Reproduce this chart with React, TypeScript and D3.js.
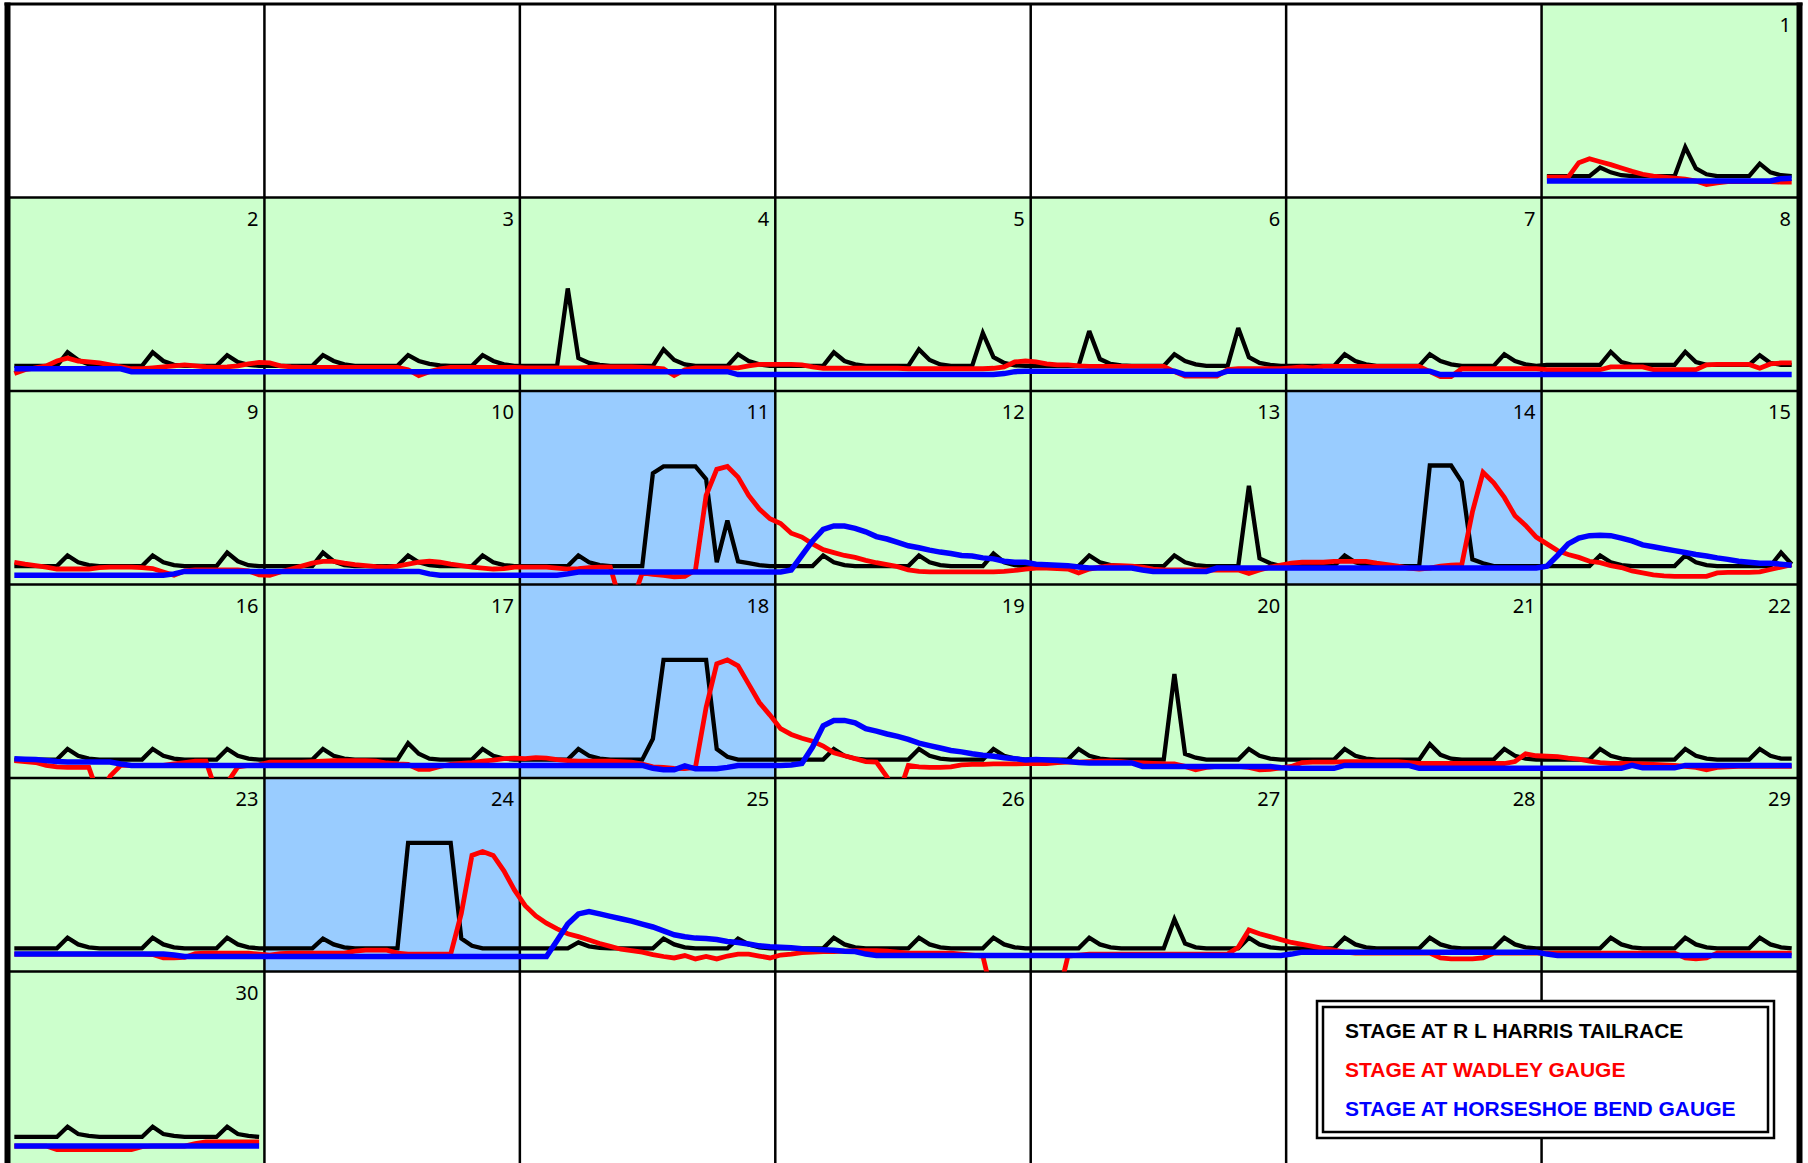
import React from 'react';
import * as d3 from 'd3';

// calendar: day 1 falls in the last column of the first week row
const FIRST_COL = 6;
const dayNumbers = [1, 2, 3, 4, 5, 6, 7, 8, 9, 10, 11, 12, 13, 14, 15, 16, 17, 18, 19, 20, 21, 22, 23, 24, 25, 26, 27, 28, 29, 30];
const highlightDays = [11, 14, 18, 24];
const seriesNames = ['STAGE AT R L HARRIS TAILRACE', 'STAGE AT WADLEY GAUGE', 'STAGE AT HORSESHOE BEND GAUGE'];

// hourly stage (ft), one row of 24 per day
const harris: number[][] = [
  [2.2,2.2,2.2,2.2,2.2,3.1, 2.6,2.3,2.2,2.2,2.2,2.2, 2.2,5.2,3.0,2.4,2.2,2.2, 2.2,2.2,3.5,2.6,2.3,2.2],
  [2.6,2.6,2.6,2.6,2.6,4.0, 3.2,2.75,2.6,2.6,2.6,2.6, 2.6,4.0,3.1,2.7,2.6,2.6, 2.6,2.6,3.7,3.0,2.7,2.6],
  [2.6,2.6,2.6,2.6,2.6,3.7, 3.1,2.75,2.6,2.6,2.6,2.6, 2.6,3.7,3.1,2.8,2.65,2.6, 2.6,2.6,3.7,3.1,2.75,2.6],
  [2.6,2.6,2.6,2.6,10.6,3.4, 2.9,2.7,2.6,2.6,2.6,2.6, 2.6,4.3,3.2,2.75,2.6,2.6, 2.6,2.6,3.8,3.1,2.75,2.6],
  [2.6,2.6,2.6,2.6,2.6,4.0, 3.1,2.75,2.6,2.6,2.6,2.6, 2.6,4.3,3.2,2.75,2.6,2.6, 2.6,6.0,3.5,2.9,2.65,2.6],
  [2.6,2.6,2.6,2.6,2.6,6.2, 3.3,2.8,2.65,2.6,2.6,2.6, 2.6,3.8,3.1,2.75,2.6,2.6, 2.6,6.5,3.5,2.9,2.7,2.6],
  [2.6,2.6,2.6,2.6,2.6,3.8, 3.1,2.75,2.6,2.6,2.6,2.6, 2.6,3.8,3.1,2.75,2.6,2.6, 2.6,2.6,3.8,3.1,2.75,2.6],
  [2.7,2.7,2.7,2.7,2.7,2.7, 4.05,3.0,2.7,2.7,2.7,2.7, 2.7,4.05,3.0,2.7,2.7,2.7, 2.7,2.7,3.7,2.9,2.7,2.7],
  [1.9,1.9,1.9,1.9,1.9,3.0, 2.3,2.0,1.9,1.9,1.9,1.9, 1.9,3.0,2.3,2.0,1.9,1.9, 1.9,1.9,3.3,2.4,2.0,1.9],
  [1.9,1.9,1.9,1.9,1.9,3.3, 2.4,2.0,1.9,1.9,1.9,1.9, 1.9,3.0,2.3,2.0,1.9,1.9, 1.9,1.9,3.0,2.3,2.0,1.9],
  [1.9,1.9,1.9,1.9,1.9,3.0, 2.3,2.0,1.9,1.9,1.9,1.9, 11.5,12.2,12.2,12.2,12.2,10.9, 2.3,6.6,2.4,2.2,2.0,1.9],
  [1.9,1.9,1.9,1.9,3.0,2.3, 2.0,1.9,1.9,1.9,1.9,1.9, 1.9,3.0,2.3,2.0,1.9,1.9, 1.9,1.9,3.2,2.3,2.0,1.9],
  [1.9,1.9,1.9,1.9,1.9,3.0, 2.3,2.0,1.9,1.9,1.9,1.9, 1.9,3.0,2.3,2.0,1.9,1.9, 1.9,1.9,10.2,2.7,2.2,1.9],
  [1.9,1.9,1.9,1.9,1.9,3.0, 2.3,2.0,1.9,1.9,1.9,1.9, 1.9,12.3,12.3,12.3,10.6,2.6, 2.2,1.9,1.9,1.9,1.9,1.9],
  [1.9,1.9,1.9,1.9,1.9,3.0, 2.3,2.0,1.9,1.9,1.9,1.9, 1.9,3.0,2.3,2.0,1.9,1.9, 1.9,1.9,1.9,1.9,3.3,2.1],
  [1.9,1.9,1.9,1.9,1.9,3.0, 2.3,2.0,1.9,1.9,1.9,1.9, 1.9,3.0,2.3,2.0,1.9,1.9, 1.9,1.9,3.0,2.3,2.0,1.9],
  [1.9,1.9,1.9,1.9,1.9,3.0, 2.3,2.0,1.9,1.9,1.9,1.9, 1.9,3.6,2.5,2.0,1.9,1.9, 1.9,1.9,3.0,2.3,2.0,1.9],
  [1.9,1.9,1.9,1.9,1.9,3.0, 2.3,2.0,1.9,1.9,1.9,1.9, 4.05,12.2,12.2,12.2,12.2,12.2, 3.0,2.2,1.9,1.9,1.9,1.9],
  [1.9,1.9,1.9,1.9,1.9,3.0, 2.3,2.0,1.9,1.9,1.9,1.9, 1.9,3.0,2.3,2.0,1.9,1.9, 1.9,1.9,3.0,2.3,2.0,1.9],
  [1.9,1.9,1.9,1.9,3.0,2.3, 2.0,1.9,1.9,1.9,1.9,1.9, 1.9,10.75,2.5,2.1,1.9,1.9, 1.9,1.9,3.0,2.3,2.0,1.9],
  [1.9,1.9,1.9,1.9,1.9,3.0, 2.3,2.0,1.9,1.9,1.9,1.9, 1.9,3.5,2.4,2.0,1.9,1.9, 1.9,1.9,3.0,2.3,2.0,1.9],
  [1.9,1.9,1.9,1.9,1.9,3.0, 2.3,2.0,1.9,1.9,1.9,1.9, 1.9,3.0,2.3,2.0,1.9,1.9, 1.9,1.9,3.0,2.3,2.0,2.0],
  [2.4,2.4,2.4,2.4,2.4,3.5, 2.8,2.5,2.4,2.4,2.4,2.4, 2.4,3.5,2.8,2.5,2.4,2.4, 2.4,2.4,3.5,2.8,2.5,2.4],
  [2.4,2.4,2.4,2.4,2.4,3.4, 2.8,2.5,2.4,2.4,2.4,2.4, 2.4,13.3,13.3,13.3,13.3,13.3, 3.4,2.65,2.4,2.4,2.4,2.4],
  [2.4,2.4,2.4,2.4,2.4,3.0, 2.6,2.45,2.4,2.4,2.4,2.4, 2.4,3.4,2.8,2.5,2.4,2.4, 2.4,2.4,3.4,2.8,2.5,2.4],
  [2.4,2.4,2.4,2.4,2.4,3.5, 2.8,2.5,2.4,2.4,2.4,2.4, 2.4,3.5,2.8,2.5,2.4,2.4, 2.4,2.4,3.5,2.8,2.5,2.4],
  [2.4,2.4,2.4,2.4,2.4,3.5, 2.8,2.5,2.4,2.4,2.4,2.4, 2.4,5.4,2.9,2.5,2.4,2.4, 2.4,2.4,3.5,2.8,2.5,2.4],
  [2.4,2.4,2.4,2.4,2.4,3.5, 2.8,2.5,2.4,2.4,2.4,2.4, 2.4,3.5,2.8,2.5,2.4,2.4, 2.4,2.4,3.5,2.8,2.5,2.4],
  [2.4,2.4,2.4,2.4,2.4,2.4, 3.5,2.8,2.5,2.4,2.4,2.4, 2.4,3.5,2.8,2.5,2.4,2.4, 2.4,2.4,3.5,2.8,2.5,2.4],
  [2.9,2.9,2.9,2.9,2.9,3.95, 3.2,3.0,2.9,2.9,2.9,2.9, 2.9,3.95,3.2,3.0,2.9,2.9, 2.9,2.9,3.95,3.2,3.0,2.9],
];

const wadley: number[][] = [
  [2.1,2.1,2.1,3.6,4.0,3.7, 3.4,3.05,2.7,2.4,2.2,2.1, 2.0,1.9,1.7,1.35,1.5,1.65, 1.65,1.65,1.65,1.65,1.6,1.6],
  [1.8,2.2,2.4,2.6,3.1,3.4, 3.1,3.0,2.9,2.7,2.5,2.3, 2.3,2.4,2.5,2.6,2.7,2.6, 2.5,2.45,2.5,2.6,2.8,2.95],
  [2.9,2.6,2.5,2.45,2.45,2.45, 2.45,2.45,2.45,2.45,2.45,2.45, 2.45,2.2,1.6,2.0,2.3,2.45, 2.45,2.45,2.45,2.45,2.45,2.45],
  [2.4,2.4,2.4,2.4,2.4,2.4, 2.45,2.5,2.5,2.5,2.5,2.45, 2.4,2.3,1.6,2.2,2.4,2.4, 2.4,2.4,2.4,2.6,2.75,2.75],
  [2.75,2.75,2.7,2.5,2.35,2.35, 2.35,2.35,2.35,2.35,2.35,2.35, 2.3,2.3,2.3,2.3,2.3,2.3, 2.3,2.3,2.35,2.5,3.0,3.1],
  [3.0,2.8,2.7,2.7,2.6,2.55, 2.55,2.55,2.55,2.55,2.55,2.55, 2.55,2.0,1.55,1.55,1.55,1.55, 2.2,2.3,2.3,2.3,2.3,2.3],
  [2.4,2.5,2.4,2.55,2.55,2.55, 2.55,2.55,2.55,2.55,2.55,2.55, 2.55,2.0,1.5,1.5,2.3,2.3, 2.3,2.3,2.3,2.3,2.3,2.3],
  [2.2,2.2,2.2,2.2,2.2,2.2, 2.5,2.5,2.5,2.5,2.2,2.2, 2.2,2.2,2.2,2.7,2.75,2.75, 2.75,2.75,2.35,2.8,2.9,2.9],
  [2.3,2.1,1.95,1.8,1.6,1.6, 1.6,1.6,1.75,1.8,1.8,1.8, 1.75,1.65,1.3,0.95,1.4,1.5, 1.5,1.5,1.5,1.5,1.4,1.0],
  [0.95,1.3,1.6,1.9,2.2,2.4, 2.4,2.2,2.06,1.95,1.85,1.8, 1.9,2.1,2.3,2.4,2.3,2.1, 1.95,1.8,1.7,1.6,1.65,1.8],
  [1.8,1.8,1.8,1.7,1.6,1.65, 1.75,1.8,1.8,-2,-2,1.2, 1.05,0.95,0.8,0.85,1.5,9.2, 11.9,12.2,11.1,9.2,7.8,6.8],
  [6.3,5.3,4.9,4.2,3.6,3.3, 3.0,2.8,2.5,2.25,2.05,1.85, 1.5,1.35,1.3,1.3,1.3,1.3, 1.3,1.3,1.3,1.35,1.45,1.6],
  [1.7,1.7,1.65,1.6,1.2,1.6, 1.8,1.95,1.95,1.9,1.8,1.6, 1.5,1.5,1.5,1.5,1.5,1.5, 1.5,1.5,1.15,1.5,1.8,2.0],
  [2.2,2.3,2.3,2.3,2.4,2.4, 2.4,2.4,2.2,2.05,1.9,1.7, 1.6,1.7,1.9,2.0,2.05,7.5, 11.6,10.5,9.0,7.1,6.1,4.9],
  [4.2,3.5,3.1,2.8,2.4,2.25, 1.95,1.75,1.4,1.2,1.0,0.9, 0.85,0.85,0.85,0.85,1.2,1.25, 1.25,1.25,1.3,1.55,1.8,2.05],
  [1.8,1.7,1.6,1.3,1.15,1.1, 1.1,1.1,-2,0.2,1.3,1.3, 1.3,1.3,1.3,1.45,1.6,1.75, 1.75,-1.5,-0.5,1.15,1.3,1.35],
  [1.65,1.65,1.65,1.65,1.7,1.75, 1.8,1.8,1.8,1.8,1.75,1.55, 1.45,1.4,0.9,0.9,1.2,1.4, 1.5,1.6,1.75,1.85,2.0,2.05],
  [2.0,2.1,2.05,1.9,1.8,1.75, 1.75,1.75,1.75,1.7,1.65,1.45, 1.15,1.1,1.0,0.96,1.1,7.3, 11.8,12.2,11.6,9.7,7.8,6.5],
  [5.1,4.5,4.1,3.8,3.3,2.6, 2.3,2.0,1.7,1.65,0.1,-2, 1.3,1.15,1.1,1.1,1.15,1.35, 1.4,1.4,1.45,1.45,1.45,1.5],
  [1.5,1.5,1.6,1.65,1.65,1.7, 1.75,1.75,1.7,1.6,1.55,1.5, 1.45,1.45,1.2,0.85,1.1,1.2, 1.2,1.2,1.1,0.85,0.9,1.05],
  [1.2,1.6,1.65,1.65,1.65,1.7, 1.7,1.7,1.7,1.7,1.7,1.6, 1.5,1.5,1.5,1.5,1.5,1.5, 1.5,1.5,1.5,1.7,2.5,2.3],
  [2.25,2.2,2.05,1.95,1.75,1.6, 1.5,1.5,1.5,1.45,1.4,1.35, 1.3,1.2,1.1,0.85,1.1,1.15, 1.2,1.2,1.2,1.2,1.2,1.2],
  [1.8,1.8,1.8,1.8,1.8,1.8, 1.8,1.8,1.8,1.8,1.8,1.8, 1.8,1.75,1.4,1.4,1.45,1.85, 1.9,1.9,1.9,1.9,1.9,1.8],
  [1.7,1.85,1.9,1.9,1.9,1.9, 1.9,1.9,2.1,2.2,2.2,2.2, 1.9,1.8,1.8,1.8,1.8,1.8, 6.0,12.0,12.4,12.0,10.4,8.4],
  [6.8,5.75,5.0,4.4,3.9,3.6, 3.25,2.9,2.6,2.3,2.15,2.0, 1.75,1.55,1.4,1.65,1.3,1.55, 1.3,1.6,1.8,1.8,1.6,1.4],
  [1.7,1.8,1.95,2.0,2.05,2.06, 2.1,2.15,2.15,2.15,2.1,2.0, 1.9,1.9,1.9,1.9,1.9,1.8, 1.7,1.6,-3,-3,-3,-3],
  [-3,-3,-3,1.6,1.7,1.8, 1.8,1.8,1.8,1.8,1.8,1.8, 1.8,1.8,1.8,1.8,1.8,1.8, 1.8,2.5,4.3,3.9,3.6,3.3],
  [3.0,2.8,2.6,2.4,2.2,2.0, 1.9,1.9,1.9,1.9,1.9,1.9, 1.9,1.9,1.4,1.3,1.3,1.3, 1.4,1.9,1.9,1.9,1.9,1.9],
  [1.9,1.9,1.9,1.9,1.9,1.9, 1.9,1.9,1.9,1.9,1.9,1.9, 1.9,1.4,1.3,1.4,1.9,1.9, 1.9,1.9,1.9,1.9,1.9,1.9],
  [1.96,1.96,1.96,1.96,1.6,1.6, 1.6,1.6,1.6,1.6,1.6,1.6, 1.9,1.96,1.96,1.96,1.96,2.2, 2.4,2.4,2.4,2.4,2.4,2.4],
];

const horseshoe: number[][] = [
  [1.7,1.7,1.7,1.7,1.7,1.7, 1.7,1.7,1.7,1.7,1.7,1.7, 1.7,1.7,1.7,1.7,1.7,1.7, 1.7,1.7,1.7,1.7,1.95,2.0],
  [2.3,2.3,2.3,2.3,2.3,2.3, 2.3,2.3,2.3,2.3,2.3,2.0, 2.0,2.0,2.0,2.0,2.0,2.0, 2.0,2.0,2.0,2.0,2.0,2.0],
  [2.0,2.0,2.0,2.0,2.0,2.0, 2.0,2.0,2.0,2.0,2.0,2.0, 2.0,2.0,2.0,2.0,2.0,2.0, 2.0,2.0,2.0,2.0,2.0,2.0],
  [2.0,2.0,2.0,2.0,2.0,2.0, 2.0,2.0,2.0,2.0,2.0,2.0, 2.0,2.0,2.0,2.0,2.0,2.0, 2.0,2.0,1.7,1.7,1.7,1.7],
  [1.7,1.7,1.7,1.7,1.7,1.7, 1.7,1.7,1.7,1.7,1.7,1.7, 1.7,1.7,1.7,1.7,1.7,1.7, 1.7,1.7,1.7,1.8,2.0,2.05],
  [2.05,2.05,2.05,2.05,2.05,2.05, 2.05,2.05,2.05,2.05,2.05,2.05, 2.05,2.05,1.7,1.7,1.7,1.7, 2.05,2.05,2.05,2.05,2.05,2.05],
  [2.05,2.05,2.05,2.05,2.05,2.05, 2.05,2.05,2.05,2.05,2.05,2.05, 2.05,2.05,1.7,1.7,1.7,1.7, 1.7,1.7,1.7,1.7,1.7,1.7],
  [1.7,1.7,1.7,1.7,1.7,1.7, 1.7,1.7,1.7,1.7,1.7,1.7, 1.7,1.7,1.7,1.7,1.7,1.7, 1.7,1.7,1.7,1.7,1.7,1.7],
  [0.95,0.95,0.95,0.95,0.95,0.95, 0.95,0.95,0.95,0.95,0.95,0.95, 0.95,0.95,0.95,1.1,1.35,1.35, 1.35,1.35,1.35,1.35,1.35,1.35],
  [1.35,1.35,1.35,1.35,1.35,1.35, 1.35,1.35,1.35,1.35,1.35,1.35, 1.35,1.35,1.35,1.1,0.95,0.95, 0.95,0.95,0.95,0.95,0.95,0.95],
  [0.95,0.95,0.95,0.95,1.1,1.3, 1.3,1.3,1.3,1.3,1.3,1.3, 1.3,1.3,1.3,1.3,1.3,1.3, 1.3,1.3,1.3,1.3,1.3,1.3],
  [1.3,1.5,3.0,4.5,5.7,6.05, 6.05,5.8,5.45,4.95,4.7,4.35, 4.0,3.8,3.55,3.35,3.2,3.0, 2.95,2.75,2.65,2.4,2.3,2.3],
  [2.1,2.05,2.0,1.95,1.8,1.7, 1.7,1.7,1.7,1.7,1.5,1.35, 1.35,1.35,1.35,1.35,1.35,1.7, 1.7,1.7,1.7,1.7,1.7,1.7],
  [1.7,1.7,1.7,1.7,1.7,1.7, 1.7,1.7,1.7,1.7,1.7,1.7, 1.7,1.7,1.7,1.7,1.7,1.7, 1.7,1.7,1.7,1.7,1.7,1.7],
  [1.9,3.0,4.2,4.8,5.05,5.1, 5.05,4.8,4.5,4.1,3.9,3.7, 3.5,3.3,3.1,2.95,2.75,2.6, 2.4,2.3,2.2,2.2,2.1,2.0],
  [2.0,1.95,1.9,1.8,1.7,1.65, 1.65,1.65,1.65,1.65,1.45,1.3, 1.3,1.3,1.3,1.3,1.3,1.3, 1.3,1.3,1.3,1.3,1.3,1.3],
  [1.3,1.3,1.3,1.3,1.3,1.3, 1.3,1.3,1.3,1.3,1.3,1.3, 1.3,1.3,1.3,1.3,1.3,1.3, 1.3,1.3,1.3,1.3,1.3,1.3],
  [1.3,1.3,1.3,1.3,1.3,1.3, 1.3,1.3,1.3,1.3,1.3,1.3, 1.0,0.85,0.85,1.25,0.95,0.95, 0.95,1.1,1.3,1.3,1.3,1.3],
  [1.3,1.35,1.5,3.2,5.4,5.95, 5.95,5.7,5.1,4.85,4.55,4.3, 4.0,3.6,3.35,3.1,2.85,2.7, 2.5,2.35,2.25,2.1,2.0,1.85],
  [1.9,1.85,1.8,1.7,1.6,1.55, 1.55,1.55,1.55,1.55,1.2,1.2, 1.2,1.2,1.2,1.2,1.2,1.2, 1.2,1.2,1.2,1.2,1.2,1.05],
  [1.0,1.0,1.0,1.0,1.0,1.3, 1.3,1.3,1.3,1.3,1.3,1.3, 1.0,1.0,1.0,1.0,1.0,1.0, 1.0,1.0,1.0,1.0,1.0,1.0],
  [1.0,1.0,1.0,1.0,1.0,1.0, 1.0,1.0,1.3,1.05,1.05,1.05, 1.05,1.3,1.3,1.3,1.3,1.3, 1.3,1.3,1.3,1.3,1.3,1.3],
  [1.8,1.8,1.8,1.8,1.8,1.8, 1.8,1.8,1.8,1.8,1.8,1.8, 1.8,1.8,1.8,1.7,1.55,1.55, 1.55,1.55,1.55,1.55,1.55,1.55],
  [1.55,1.55,1.55,1.55,1.55,1.55, 1.55,1.55,1.55,1.55,1.55,1.55, 1.55,1.55,1.55,1.55,1.55,1.55, 1.55,1.55,1.55,1.55,1.55,1.55],
  [1.55,1.55,1.55,3.2,4.9,5.95, 6.2,5.95,5.7,5.45,5.2,4.9, 4.6,4.2,3.8,3.6,3.45,3.4, 3.3,3.1,3.0,2.85,2.65,2.55],
  [2.5,2.45,2.35,2.3,2.25,2.2, 2.1,2.06,1.8,1.65,1.65,1.65, 1.65,1.65,1.65,1.65,1.65,1.65, 1.65,1.65,1.65,1.65,1.65,1.65],
  [1.65,1.65,1.65,1.65,1.65,1.65, 1.65,1.65,1.65,1.65,1.65,1.65, 1.65,1.65,1.65,1.65,1.65,1.65, 1.65,1.65,1.65,1.65,1.65,1.65],
  [1.8,2.0,2.0,2.0,2.0,2.0, 2.0,2.0,2.0,2.0,2.0,2.0, 2.0,2.0,2.0,2.0,2.0,2.0, 2.0,2.0,2.0,2.0,2.0,2.0],
  [1.8,1.65,1.65,1.65,1.65,1.65, 1.65,1.65,1.65,1.65,1.65,1.65, 1.65,1.65,1.65,1.65,1.65,1.65, 1.65,1.65,1.65,1.65,1.65,1.65],
  [1.96,1.96,1.96,1.96,1.96,1.96, 1.96,1.96,1.96,1.96,1.96,1.96, 1.96,1.96,1.96,1.96,1.96,1.96, 1.96,1.96,1.96,1.96,1.96,1.96],
];

const series = [
  { values: harris, color: '#000000', width: 4.3 },
  { values: wadley, color: '#ff0000', width: 4.8 },
  { values: horseshoe, color: '#0000ff', width: 5.5 },
];

const W = 1808;
const H = 1163;

const App = () => {
  const colBand = d3.scaleBand<number>().domain(d3.range(7)).range([9, 1797]);
  const rowBand = d3.scaleBand<number>().domain(d3.range(6)).range([4, 1165]);
  const hourX = d3.scaleLinear().domain([0, 7 * 24]).range([9, 1797]);
  const rowH = rowBand.bandwidth();
  const stageY = d3.scaleLinear().domain([0, 20]).range([rowH, 0]);
  const line = d3.line<[number, number]>();

  const slot = (day: number) => {
    const i = FIRST_COL + day - 1;
    return { row: Math.floor(i / 7), col: i % 7 };
  };

  const cells = d3.range(42).map((i) => {
    const day = i - FIRST_COL + 1;
    return { row: Math.floor(i / 7), col: i % 7, day: dayNumbers.includes(day) ? day : null };
  });

  const rows = d3.range(6).map((row) => dayNumbers.filter((d) => slot(d).row === row));

  return (
    <svg width={W} height={H} style={{ position: 'absolute', left: 0, top: 0, display: 'block' }}>
      <defs>
        {/* clip rect lives in each row group's local (translated) space */}
        <clipPath id="rowclip">
          <rect x={9} y={0} width={1788} height={rowH} />
        </clipPath>
      </defs>
      <rect width={W} height={H} fill="#ffffff" />

      {/* day cells */}
      {cells.map((c, i) => (
        <rect
          key={i}
          x={colBand(c.col)}
          y={rowBand(c.row)}
          width={colBand.bandwidth()}
          height={rowH}
          fill={c.day == null ? '#ffffff' : highlightDays.includes(c.day) ? '#99ccff' : '#ccffcc'}
        />
      ))}

      {/* grid */}
      {d3.range(1, 7).map((c) => (
        <line key={'v' + c} x1={colBand(c)} x2={colBand(c)} y1={4} y2={1165} stroke="#000" strokeWidth={2.5} />
      ))}
      {d3.range(1, 6).map((r) => (
        <line key={'h' + r} x1={9} x2={1797} y1={rowBand(r)} y2={rowBand(r)} stroke="#000" strokeWidth={2.5} />
      ))}

      {/* day numbers */}
      {cells
        .filter((c) => c.day != null)
        .map((c) => (
          <text
            key={'n' + c.day}
            x={(colBand(c.col) as number) + colBand.bandwidth() - 6}
            y={(rowBand(c.row) as number) + 28}
            textAnchor="end"
            fontFamily="'Noto Sans', 'DejaVu Sans', sans-serif"
            fontSize={20}
            fill="#000"
          >
            {c.day}
          </text>
        ))}

      {/* stage lines, one continuous trace per week row */}
      {rows.map((days, r) =>
        days.length === 0 ? null : (
          <g key={'row' + r} transform={`translate(0,${rowBand(r)})`}>
            <g clipPath="url(#rowclip)">
              {series.map((s, si) => {
                const pts: [number, number][] = days.flatMap((d) =>
                  s.values[d - 1].map((v, h) => [hourX(slot(d).col * 24 + h + 0.5), stageY(v)] as [number, number])
                );
                return (
                  <path
                    key={si}
                    d={line(pts) || ''}
                    fill="none"
                    stroke={s.color}
                    strokeWidth={s.width}
                    strokeLinejoin="miter"
                    strokeMiterlimit={3}
                  />
                );
              })}
            </g>
          </g>
        )
      )}

      {/* outer frame */}
      <line x1={7.5} x2={7.5} y1={2.5} y2={1165} stroke="#000" strokeWidth={6} />
      <line x1={1799.5} x2={1799.5} y1={2.5} y2={1165} stroke="#000" strokeWidth={6} />
      <line x1={4.5} x2={1802.5} y1={4} y2={4} stroke="#000" strokeWidth={3} />

      {/* legend */}
      <g>
        <rect x={1317} y={1001} width={457} height={137} fill="#ffffff" stroke="#000" strokeWidth={2.5} />
        <rect x={1323} y={1007} width={445} height={125} fill="none" stroke="#000" strokeWidth={2.5} />
        {seriesNames.map((name, i) => (
          <text
            key={name}
            x={1345}
            y={1038 + i * 39}
            fontFamily="'Liberation Sans', Arial, sans-serif"
            fontWeight="bold"
            fontSize={21}
            fill={series[i].color}
          >
            {name}
          </text>
        ))}
      </g>
    </svg>
  );
};

export default App;
